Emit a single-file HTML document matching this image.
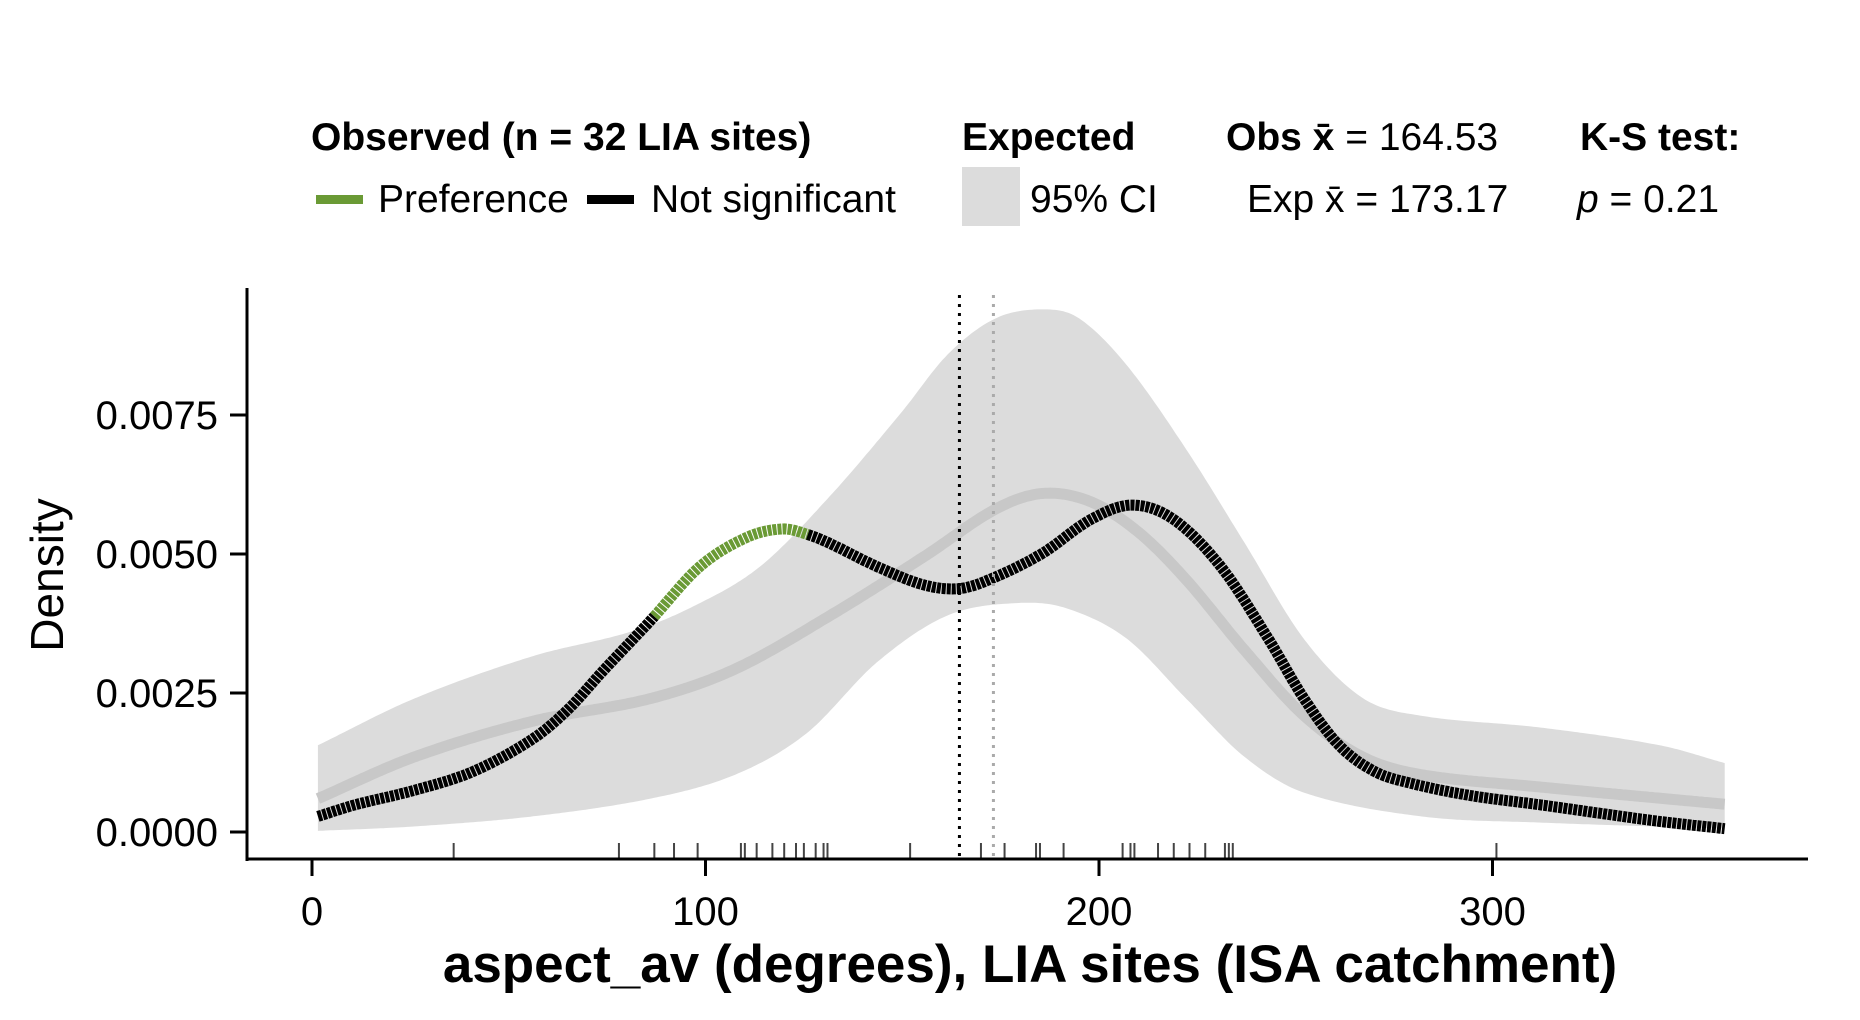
<!DOCTYPE html>
<html><head><meta charset="utf-8"><style>
body{margin:0;background:#fff}
svg{display:block;font-family:"Liberation Sans",sans-serif}
</style></head><body>
<svg id="chart" width="1860" height="1020" viewBox="0 0 1860 1020" xmlns="http://www.w3.org/2000/svg">
<g font-size="39">
<text x="311" y="150" font-weight="bold">Observed (n = 32 LIA sites)</text>
<rect x="316" y="195" width="47" height="9" fill="#6a9a35"/>
<text x="378" y="212">Preference</text>
<rect x="587" y="195" width="47" height="9" fill="#000"/>
<text x="651" y="212">Not significant</text>
<text x="962" y="150" font-weight="bold">Expected</text>
<rect x="962" y="167" width="58" height="59" fill="#dcdcdc"/>
<text x="1030" y="212">95% CI</text>
<text x="1226" y="150"><tspan font-weight="bold">Obs x̄</tspan> = 164.53</text>
<text x="1247" y="212">Exp x̄ = 173.17</text>
<text x="1580" y="150" font-weight="bold">K-S test:</text>
<text x="1577" y="212"><tspan font-style="italic">p</tspan> = 0.21</text>
</g>
<g id="plot"></g>
</svg>
<script>
const obsX=[1.5,11,26,41,56,65,74,86,98.5,110.5,119.5,125.6,131.6,143.7,155.7,164.8,173.8,185.8,197.9,208.4,219,231,243,252,261,270,279,294,312,327,342.5,359];
const obsY=[0.00028,0.00049,0.00075,0.00109,0.00167,0.0022,0.0029,0.0038,0.00477,0.0053,0.00545,0.00536,0.00519,0.00477,0.00444,0.00438,0.00459,0.00502,0.00562,0.00588,0.00562,0.00477,0.00348,0.00241,0.00156,0.00109,0.00088,0.00066,0.00049,0.00034,0.00019,0.00006];
const expX=[1.5,26,56,86,107.5,131.6,155.7,173.8,185.8,197.9,209.9,222,237,252,267,282,312,359];
const expY=[0.0006,0.00135,0.00199,0.0024,0.00293,0.00389,0.00496,0.00581,0.00609,0.00594,0.0054,0.00455,0.00327,0.0021,0.00135,0.00103,0.00081,0.0005];
const upX=[1.5,26,56,80.4,95.5,113.6,131.6,149.7,161.7,173.8,185.8,194.9,207,222,237,252,267,282,312,342.5,359];
const upY=[0.00156,0.0024,0.00316,0.00359,0.00401,0.00476,0.00604,0.00754,0.0086,0.00924,0.0094,0.00924,0.0084,0.0069,0.0052,0.00348,0.00241,0.00209,0.00188,0.00156,0.00124];
const loX=[1.5,26,56,86,107.5,125.6,143.7,161.7,179.8,191.9,207,222,237,252,282,312,359];
const loY=[0.00002,0.0001,0.00028,0.0006,0.00103,0.00177,0.00306,0.0039,0.00412,0.00402,0.00348,0.00241,0.00135,0.00071,0.00028,0.00017,0.00006];
const rug=[36,78,87,92,98,109,110,113,117,120,123,125,128,130,131,152,170,176,184,185,191,206,208,209,215,219,223,227,232,233,234,301];
const xTicks=[0,100,200,300];
const yTicks=[0,0.0025,0.005,0.0075];
const yTickLabels=["0.0000","0.0025","0.0050","0.0075"];
const obsMean=164.53, expMean=173.17, prefStart=87, prefEnd=126;

const NS="http://www.w3.org/2000/svg";
const g=document.getElementById('plot');
const sx=v=>312+v*3.935;
const sy=v=>832-v/0.0025*139;
function el(tag,attrs,parent){const e=document.createElementNS(NS,tag);for(const k in attrs)e.setAttribute(k,attrs[k]);(parent||g).appendChild(e);return e;}
// monotone-ish Catmull-Rom sampling in data space
function cr(xs,ys,x){let i=0;while(i<xs.length-2&&x>xs[i+1])i++;
 const x0=xs[Math.max(i-1,0)],x1=xs[i],x2=xs[i+1],x3=xs[Math.min(i+2,xs.length-1)];
 const y0=ys[Math.max(i-1,0)],y1=ys[i],y2=ys[i+1],y3=ys[Math.min(i+2,ys.length-1)];
 const h=x2-x1,t=Math.min(Math.max((x-x1)/h,0),1);
 const m1=(y2-y0)/(x2-x0||1)*h,m2=(y3-y1)/(x3-x1||1)*h;
 const t2=t*t,t3=t2*t;
 return (2*t3-3*t2+1)*y1+(t3-2*t2+t)*m1+(-2*t3+3*t2)*y2+(t3-t2)*m2;}
function smoothPts(xs,ys,a,b){const pts=[];const n=Math.max(2,Math.round((b-a)*1.5));for(let k=0;k<=n;k++){const x=a+(b-a)*k/n;pts.push([sx(x),sy(cr(xs,ys,x))]);}return pts;}
function toPath(pts){return pts.map((p,i)=>(i?'L':'M')+p[0].toFixed(1)+','+p[1].toFixed(1)).join(' ');}

const up=smoothPts(upX,upY,upX[0],upX[upX.length-1]);
const lo=smoothPts(loX,loY,loX[0],loX[loX.length-1]).reverse();
const ci=el('path',{d:toPath(up.concat(lo))+' Z',fill:'#dcdcdc'});


const em=el('path',{d:toPath(smoothPts(expX,expY,expX[0],expX[expX.length-1])),fill:'none',stroke:'#c8c8c8','stroke-width':11,'stroke-linejoin':'round'});



const o1=el('path',{d:toPath(smoothPts(obsX,obsY,obsX[0],prefStart)),fill:'none',stroke:'#000','stroke-width':11,'stroke-dasharray':'4 1'});


const o2=el('path',{d:toPath(smoothPts(obsX,obsY,prefStart,prefEnd)),fill:'none',stroke:'#6a9a35','stroke-width':11,'stroke-dasharray':'4 1'});


const o3=el('path',{d:toPath(smoothPts(obsX,obsY,prefEnd,obsX[obsX.length-1])),fill:'none',stroke:'#000','stroke-width':11,'stroke-dasharray':'4 1'});



const m1=el('line',{x1:sx(obsMean),x2:sx(obsMean),y1:295,y2:858,stroke:'#000','stroke-width':3,'stroke-dasharray':'3 6'});


const m2=el('line',{x1:sx(expMean),x2:sx(expMean),y1:295,y2:858,stroke:'#aaa','stroke-width':3,'stroke-dasharray':'3 6'});



rug.forEach(v=>{const r=el('line',{x1:sx(v),x2:sx(v),y1:843,y2:858,stroke:'#444','stroke-width':2});

});

const ya=el('line',{x1:247,x2:247,y1:288,y2:861,stroke:'#000','stroke-width':3});


const xa=el('line',{x1:246,x2:1808,y1:859,y2:859,stroke:'#000','stroke-width':3});


yTicks.forEach((v,i)=>{
 const t=el('line',{x1:230,x2:247,y1:sy(v),y2:sy(v),stroke:'#000','stroke-width':3});
 
 
 const l=el('text',{x:218,y:sy(v)+14,'text-anchor':'end','font-size':40});
 l.textContent=yTickLabels[i];
 
 
});
xTicks.forEach(v=>{
 const t=el('line',{x1:sx(v),x2:sx(v),y1:859,y2:876,stroke:'#000','stroke-width':3});
 
 
 const l=el('text',{x:sx(v),y:925,'text-anchor':'middle','font-size':40});
 l.textContent=String(v);
 
 
});
const xt=el('text',{x:1030,y:982,'text-anchor':'middle','font-size':53,'font-weight':'bold'});
xt.textContent='aspect_av (degrees), LIA sites (ISA catchment)';


const yt=el('text',{x:0,y:0,'text-anchor':'middle','font-size':46,transform:'translate(63,575) rotate(-90)'});
yt.textContent='Density';


</script>
</body></html>
